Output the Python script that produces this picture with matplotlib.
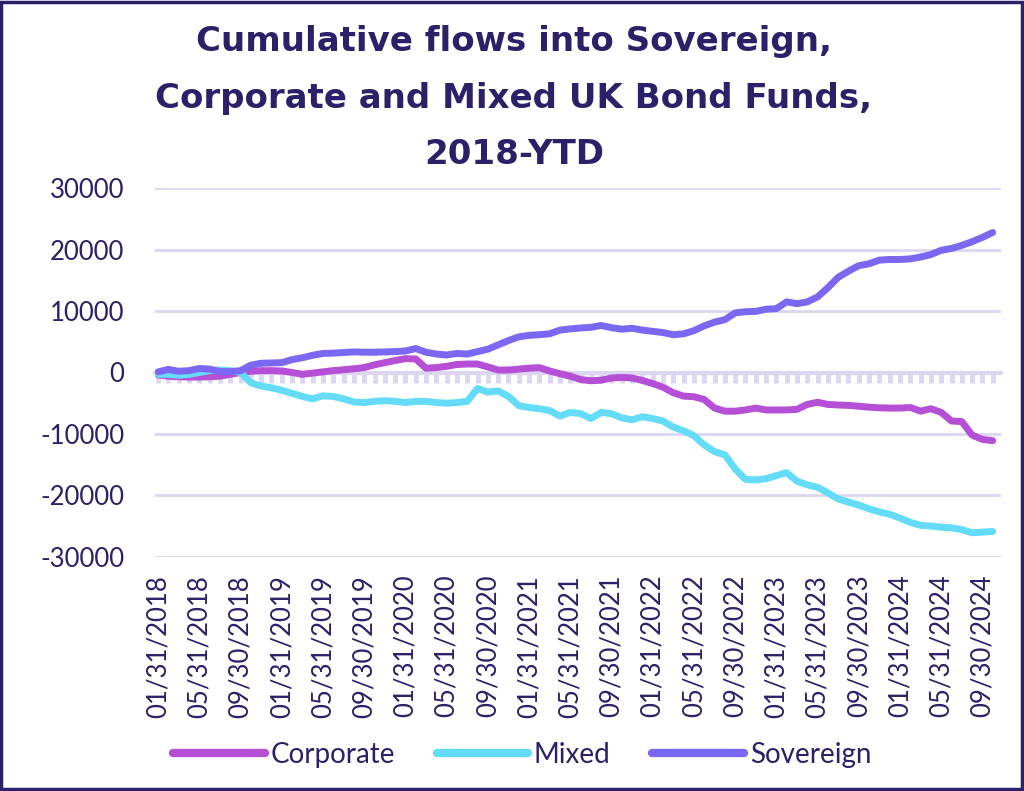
import matplotlib
matplotlib.use('Agg')
import matplotlib.pyplot as plt
from matplotlib.patches import Rectangle
import pandas as pd

# monthly cumulative flows, Jan 2018 - Oct 2024
months = pd.date_range('2018-01-31', '2024-10-31', freq='ME')

corporate = [-400, -600, -700, -750, -750, -700, -600, -300, 0, 200,
             300, 300, 250, 0, -300, -100, 100, 300, 450, 600,
             800, 1250, 1600, 1950, 2250, 2200, 700, 800, 1000, 1300,
             1380, 1380, 900, 400, 400, 550, 700, 790, 250, -200,
             -600, -1150, -1350, -1250, -900, -800, -900, -1300, -1800, -2400,
             -3300, -3850, -3950, -4400, -5800, -6300, -6300, -6100, -5800, -6100,
             -6100, -6100, -6000, -5200, -4850, -5200, -5300, -5350, -5500, -5650,
             -5750, -5800, -5800, -5700, -6300, -5900, -6500, -7900, -8000, -10200,
             -10900, -11100]

mixed = [-300, -300, -450, -300, 0, 300, 400, 300, 0, -1700,
         -2200, -2500, -2900, -3400, -3900, -4300, -3800, -3900, -4300, -4800,
         -4900, -4700, -4600, -4700, -4900, -4700, -4700, -4900, -5000, -4900,
         -4700, -2600, -3200, -3000, -3900, -5400, -5700, -5900, -6200, -7100,
         -6500, -6700, -7500, -6500, -6700, -7400, -7700, -7200, -7500, -7900,
         -8900, -9500, -10300, -11800, -12900, -13400, -15700, -17400, -17500, -17300,
         -16800, -16300, -17700, -18300, -18700, -19600, -20600, -21100, -21600, -22200,
         -22700, -23100, -23700, -24400, -24900, -25000, -25200, -25300, -25600, -26100,
         -26000, -25900]

sovereign = [100, 500, 200, 300, 650, 550, 150, 150, 300, 1200,
             1500, 1550, 1600, 2100, 2400, 2800, 3100, 3150, 3250, 3350,
             3300, 3300, 3350, 3400, 3500, 3900, 3300, 3000, 2850, 3100,
             3000, 3400, 3800, 4500, 5200, 5800, 6050, 6150, 6300, 6900,
             7100, 7250, 7350, 7650, 7300, 7050, 7200, 6900, 6700, 6500,
             6150, 6300, 6800, 7600, 8200, 8600, 9700, 9900, 9950, 10300,
             10400, 11500, 11200, 11500, 12300, 13800, 15500, 16500, 17400, 17700,
             18300, 18400, 18400, 18500, 18800, 19200, 19900, 20200, 20700, 21300,
             22000, 22800]

series = [('Corporate', corporate, '#b44fd6'),
          ('Mixed', mixed, '#64dcf8'),
          ('Sovereign', sovereign, '#7a68f2')]

navy = '#2b2168'
lavender = '#dcd6f3'
font = 'Lato'

fig = plt.figure(figsize=(10.24, 7.91), dpi=100)
ax = fig.add_axes([0.1514, 0.2962, 0.8261, 0.4658])

x = list(range(len(months)))
for name, vals, col in series:
    ax.plot(x, vals, color=col, lw=5, label=name,
            solid_capstyle='round', solid_joinstyle='round', zorder=3)

ax.set_ylim(-30000, 30000)
ax.set_xlim(-0.3, 81.8)
ax.set_yticks(range(-30000, 30001, 10000))
ax.set_yticklabels([str(v) for v in range(-30000, 30001, 10000)],
                   fontsize=18.5, color=navy, family=font)
ax.grid(axis='y', color=lavender, lw=2)
ax.set_axisbelow(True)
for s in ax.spines.values():
    s.set_visible(False)

ticks = x[::4]
ax.set_xticks(ticks)
ax.set_xticklabels([months[i].strftime('%m/%d/%Y') for i in ticks],
                   rotation=90, fontsize=18.5, color=navy, family=font)
ax.tick_params(axis='x', length=0, pad=13)
ax.tick_params(axis='y', length=0, pad=22)

# zero line with monthly ticks
zero = ax.secondary_xaxis(0.4999)
zero.set_xticks(x)
zero.tick_params(length=7, width=3.5, color=lavender, labelbottom=False)
zero.spines['bottom'].set_color(lavender)
zero.spines['bottom'].set_linewidth(3)
zero.set_zorder(1)

fig.text(0.502, 0.876,
         'Cumulative flows into Sovereign,\nCorporate and Mixed UK Bond Funds,\n2018-YTD',
         ha='center', va='center', fontsize=24.5, fontweight='bold', color=navy,
         family='DejaVu Sans', linespacing=1.9)

leg = fig.legend(loc='center', bbox_to_anchor=(0.51, 1 - 755 / 791), ncol=3,
                 frameon=False, handlelength=3.3, handletextpad=0.2,
                 columnspacing=1.5, prop={'family': font, 'size': 20})
for t in leg.get_texts():
    t.set_color(navy)
for h in leg.get_lines():
    h.set_linewidth(6)
    h.set_solid_capstyle('round')

fig.patches.append(Rectangle((0.001, 0.002), 0.997, 0.996, transform=fig.transFigure,
                             fill=False, edgecolor=navy, lw=2.5))

fig.savefig('out.png', dpi=100, facecolor='white')
